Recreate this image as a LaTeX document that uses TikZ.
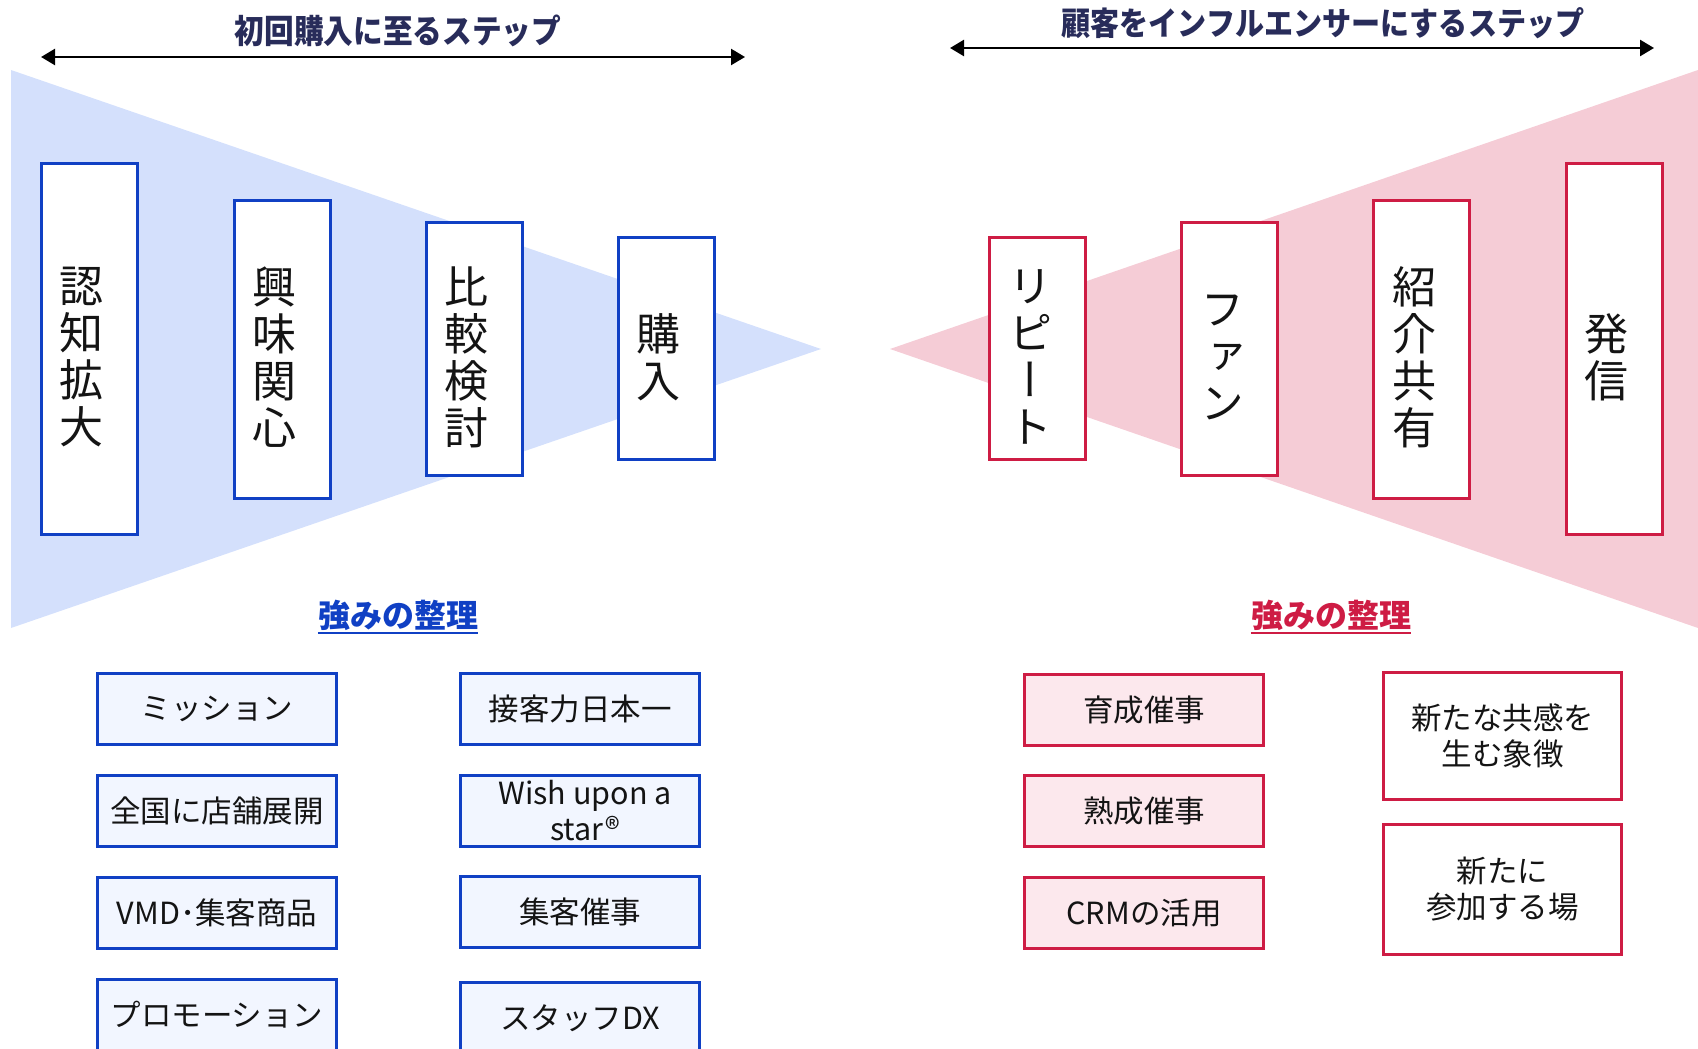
\documentclass[tikz,border=0pt]{standalone}
\usepackage{fontspec}
\usetikzlibrary{arrows.meta}
\newfontfamily\jp{Noto Sans CJK JP}
\newfontfamily\jpv[RawFeature={+vert}]{Noto Sans CJK JP}
\newfontfamily\jpt[FakeStretch=0.9]{Noto Sans CJK JP}
\definecolor{fblue}{RGB}{212,224,252}
\definecolor{fpink}{RGB}{245,204,214}
\definecolor{bblue}{RGB}{16,64,196}
\definecolor{bred}{RGB}{206,28,68}
\definecolor{lblue}{RGB}{242,246,255}
\definecolor{lpink}{RGB}{252,232,237}
\definecolor{navy}{RGB}{40,44,90}
\definecolor{ink}{RGB}{20,20,20}
\tikzset{
  bigbox/.style={draw=#1, line width=3pt, fill=white, minimum width=96pt, inner sep=0pt},
  vtext/.style={font=\jpv\fontsize{44}{47}\selectfont, align=center, inner sep=0pt, text=ink},
  sbox/.style={draw=#1, line width=3pt, minimum width=239pt, minimum height=71pt,
    font=\jp\fontsize{30.5}{36}\selectfont, align=center, text=ink, inner sep=0pt},
  ttl/.style={font=\jpt\bfseries\fontsize{33}{38}\selectfont, text=navy, inner sep=0pt},
  sub/.style={font=\jp\bfseries\fontsize{32}{36}\selectfont, text=#1, inner sep=0pt},
  dbl/.style={line width=2.5pt, {Triangle[length=14pt,width=16pt]}-{Triangle[length=14pt,width=16pt]}}
}
\begin{document}
\begin{tikzpicture}[x=1pt,y=-1pt]
\clip (0,0) rectangle (1698,1049);
% funnels
\fill[fblue] (11,70) -- (821,349) -- (11,628) -- cycle;
\fill[fpink] (890,349) -- (1698,70) -- (1698,628) -- cycle;
% titles and arrows
\node[ttl] (tl) at (398,31) {初回購入に至るステップ};
\node[ttl, font=\jpt\bfseries\fontsize{32.3}{38}\selectfont] (tr) at (1323,23) {顧客をインフルエンサーにするステップ};
\coordinate (al1) at (41,57); \coordinate (al2) at (745,57);
\coordinate (ar1) at (950,48); \coordinate (ar2) at (1654,48);
\draw[dbl] (al1) -- (al2);
\draw[dbl] (ar1) -- (ar2);
% blue step boxes
\node[bigbox=bblue, minimum height=371pt] (b1) at (89.5,348.5) {};
\node[bigbox=bblue, minimum height=298pt] (b2) at (282,349) {};
\node[bigbox=bblue, minimum height=253pt] (b3) at (474,348.5) {};
\node[bigbox=bblue, minimum height=222pt] (b4) at (666.5,348.5) {};
\node[vtext] (tb1) at (81,357) {認\\知\\拡\\大};
\node[vtext] (tb2) at (274,357) {興\\味\\関\\心};
\node[vtext] (tb3) at (466,357) {比\\較\\検\\討};
\node[vtext] (tb4) at (658,357) {購\\入};
% red step boxes
\node[bigbox=bred, minimum height=222pt] (r1) at (1037,348.5) {};
\node[bigbox=bred, minimum height=253pt] (r2) at (1229,348.5) {};
\node[bigbox=bred, minimum height=298pt] (r3) at (1421.5,349) {};
\node[bigbox=bred, minimum height=371pt] (r4) at (1614,348.5) {};
\node[vtext] (tr1) at (1030,357) {リ\\ピ\\ー\\ト};
\node[vtext] (tr2) at (1222,357) {フ\\ァ\\ン};
\node[vtext] (tr3) at (1414,357) {紹\\介\\共\\有};
\node[vtext] (tr4) at (1606,357) {発\\信};
% strength headings
\node[sub=bblue] (sl) at (398,615) {強みの整理};
\draw[bblue, line width=2pt] ([yshift=-6pt]sl.base west) -- ([yshift=-6pt]sl.base east);
\node[sub=bred] (sr) at (1331,615) {強みの整理};
\draw[bred, line width=2pt] ([yshift=-6pt]sr.base west) -- ([yshift=-6pt]sr.base east);
% blue strength boxes
\node[sbox=bblue, fill=lblue] (s11) at (217,709) {ミッション};
\node[sbox=bblue, fill=lblue] (s12) at (217,811) {全国に店舗展開};
\node[sbox=bblue, fill=lblue] (s13) at (217,913) {VMD･集客商品};
\node[sbox=bblue, fill=lblue] (s14) at (217,1015) {プロモーション};
\node[sbox=bblue, fill=lblue] (s21) at (580,709) {接客力日本一};
\node[sbox=bblue, fill=lblue] (s22) at (580,811) {\hspace*{10pt}Wish upon a\\\hspace*{10pt}star®};
\node[sbox=bblue, fill=lblue] (s23) at (580,912) {集客催事};
\node[sbox=bblue, fill=lblue] (s24) at (580,1018) {スタッフDX};
% red strength boxes
\node[sbox=bred, fill=lpink] (p11) at (1144,710) {育成催事};
\node[sbox=bred, fill=lpink] (p12) at (1144,811) {熟成催事};
\node[sbox=bred, fill=lpink] (p13) at (1144,913) {CRMの活用};
\node[sbox=bred, fill=white, minimum width=238pt, minimum height=127pt] (p21) at (1502.5,736) {新たな共感を\\生む象徴};
\node[sbox=bred, fill=white, minimum width=238pt, minimum height=130pt] (p22) at (1502.5,889.5) {新たに\\参加する場};
\end{tikzpicture}
\end{document}
